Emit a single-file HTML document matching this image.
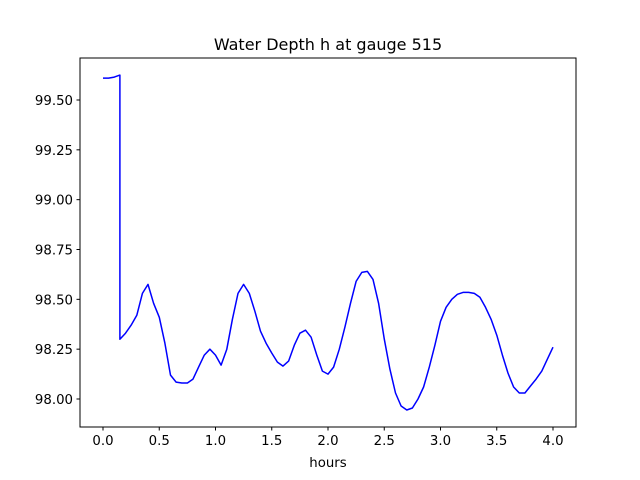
<!DOCTYPE html>
<html><head><meta charset="utf-8"><style>
body{margin:0;background:#fff}
svg{display:block;font-family:"DejaVu Sans","Liberation Sans",sans-serif}
</style></head><body>
<svg id="c" width="640" height="480" xmlns="http://www.w3.org/2000/svg">
<rect width="640" height="480" fill="#fff"/>
<text x="328" y="50" font-size="16" text-anchor="middle">Water Depth h at gauge 515</text>
<text x="328" y="467" font-size="13.3" text-anchor="middle">hours</text>
<g id="g"></g>
</svg>
<script>
const hours=[0,0.05,0.1,0.15,0.15,0.2,0.25,0.3,0.35,0.4,0.45,0.5,0.55,0.6,0.65,0.7,0.75,0.8,0.85,0.9,0.95,1.0,1.05,1.1,1.15,1.2,1.25,1.3,1.35,1.4,1.45,1.5,1.55,1.6,1.65,1.7,1.75,1.8,1.85,1.9,1.95,2.0,2.05,2.1,2.15,2.2,2.25,2.3,2.35,2.4,2.45,2.5,2.55,2.6,2.65,2.7,2.75,2.8,2.85,2.9,2.95,3.0,3.05,3.1,3.15,3.2,3.25,3.3,3.35,3.4,3.45,3.5,3.55,3.6,3.65,3.7,3.75,3.8,3.85,3.9,3.95,4.0];
const depth=[99.61,99.61,99.615,99.625,98.30,98.33,98.37,98.42,98.53,98.575,98.48,98.41,98.28,98.12,98.085,98.08,98.08,98.1,98.16,98.22,98.25,98.22,98.17,98.25,98.4,98.53,98.575,98.53,98.44,98.34,98.28,98.23,98.185,98.165,98.19,98.27,98.33,98.345,98.31,98.22,98.14,98.125,98.16,98.25,98.36,98.48,98.59,98.635,98.64,98.6,98.48,98.3,98.15,98.03,97.965,97.945,97.955,98.0,98.06,98.16,98.27,98.39,98.46,98.5,98.525,98.535,98.535,98.53,98.51,98.46,98.4,98.32,98.22,98.13,98.06,98.03,98.03,98.065,98.1,98.14,98.2,98.26];
const xTicks=[0,0.5,1,1.5,2,2.5,3,3.5,4];
const xTickLabels=["0.0","0.5","1.0","1.5","2.0","2.5","3.0","3.5","4.0"];
const yTicks=[98,98.25,98.5,98.75,99,99.25,99.5];
const yTickLabels=["98.00","98.25","98.50","98.75","99.00","99.25","99.50"];
const L=80,R=576,T=58,B=427;
const xs=v=>103+v*112.5;
const ys=v=>100+(99.5-v)*199.33;
const NS="http://www.w3.org/2000/svg";
const g=document.getElementById('g');
function mk(t,a){const e=document.createElementNS(NS,t);for(const k in a)e.setAttribute(k,a[k]);g.appendChild(e);return e;}
let d=hours.map((h,i)=>(i?'L':'M')+xs(h).toFixed(1)+','+ys(depth[i]).toFixed(1)).join('');
const ln=mk('path',{d:d,fill:'none',stroke:'#0000ff','stroke-width':1.5,'stroke-linejoin':'round'});


const fr=mk('rect',{x:L,y:T,width:R-L,height:B-T,fill:'none',stroke:'#000','stroke-width':1});


xTicks.forEach((v,i)=>{
 const t=mk('line',{x1:xs(v),x2:xs(v),y1:B,y2:B+3.5,stroke:'#000'});
 
 
 const l=mk('text',{x:xs(v),y:B+18,'font-size':13.3,'text-anchor':'middle'});
 l.textContent=xTickLabels[i];
 
 
});
yTicks.forEach((v,i)=>{
 const t=mk('line',{x1:L-3.5,x2:L,y1:ys(v),y2:ys(v),stroke:'#000'});
 
 
 const l=mk('text',{x:L-7,y:ys(v)+5,'font-size':13.3,'text-anchor':'end'});
 l.textContent=yTickLabels[i];
 
 
});
</script>
</body></html>
